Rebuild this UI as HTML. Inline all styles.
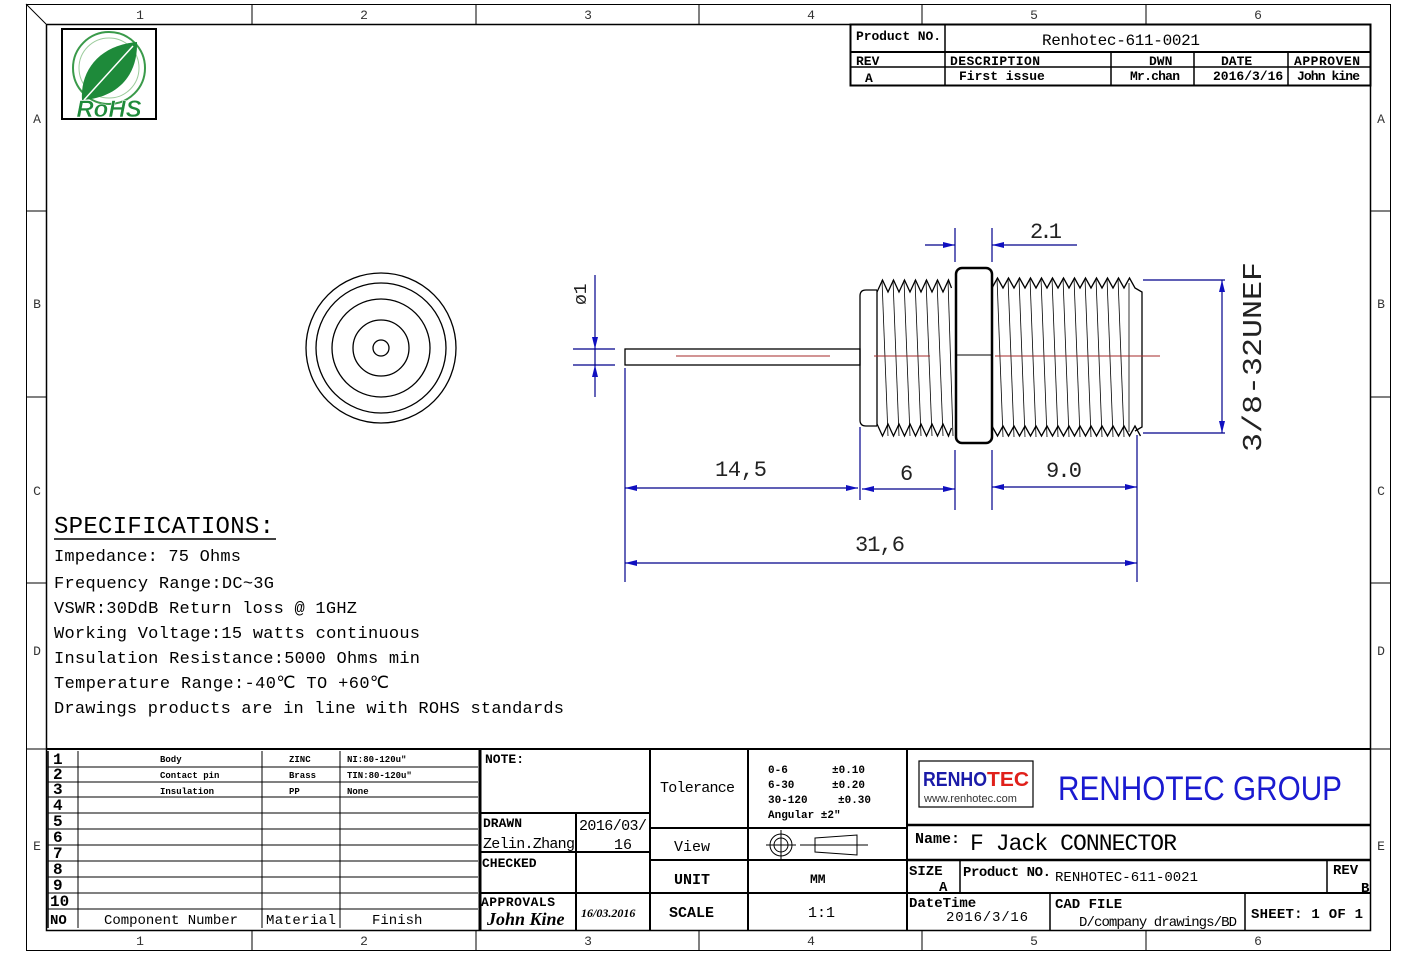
<!DOCTYPE html>
<html><head><meta charset="utf-8"><style>
html,body{margin:0;padding:0;background:#fff}
svg{display:block}
text{font-family:"Liberation Mono",monospace}
.b{font-weight:bold}
.s{font-family:"Liberation Sans",sans-serif}
</style></head><body>
<svg width="1417" height="954" viewBox="0 0 1417 954" xmlns="http://www.w3.org/2000/svg">
<rect width="1417" height="954" fill="#fff"/>
<!-- frames -->
<rect x="26.5" y="4.5" width="1364" height="946" fill="none" stroke="#000" stroke-width="1"/>
<rect x="46.5" y="24.5" width="1324" height="906" fill="none" stroke="#000" stroke-width="1.5"/>
<line x1="26" y1="4" x2="46" y2="24" stroke="#000"/>
<g stroke="#000" stroke-width="1">
<line x1="252" y1="4" x2="252" y2="24"/><line x1="476" y1="4" x2="476" y2="24"/><line x1="699" y1="4" x2="699" y2="24"/><line x1="922" y1="4" x2="922" y2="24"/><line x1="1146" y1="4" x2="1146" y2="24"/>
<line x1="252" y1="930" x2="252" y2="950"/><line x1="476" y1="930" x2="476" y2="950"/><line x1="699" y1="930" x2="699" y2="950"/><line x1="922" y1="930" x2="922" y2="950"/><line x1="1146" y1="930" x2="1146" y2="950"/>
<line x1="26" y1="211" x2="46" y2="211"/><line x1="26" y1="397" x2="46" y2="397"/><line x1="26" y1="583" x2="46" y2="583"/><line x1="26" y1="749" x2="46" y2="749"/>
<line x1="1370" y1="211" x2="1390" y2="211"/><line x1="1370" y1="397" x2="1390" y2="397"/><line x1="1370" y1="583" x2="1390" y2="583"/><line x1="1370" y1="749" x2="1390" y2="749"/>
</g>
<g class="s" font-size="13" text-anchor="middle" fill="#333">
<text x="140" y="19">1</text><text x="364" y="19">2</text><text x="588" y="19">3</text><text x="811" y="19">4</text><text x="1034" y="19">5</text><text x="1258" y="19">6</text>
<text x="140" y="945">1</text><text x="364" y="945">2</text><text x="588" y="945">3</text><text x="811" y="945">4</text><text x="1034" y="945">5</text><text x="1258" y="945">6</text>
<text x="37" y="123">A</text><text x="37" y="308">B</text><text x="37" y="495">C</text><text x="37" y="655">D</text><text x="37" y="850">E</text>
<text x="1381" y="123">A</text><text x="1381" y="308">B</text><text x="1381" y="495">C</text><text x="1381" y="655">D</text><text x="1381" y="850">E</text>
</g>
<!-- RoHS logo -->
<rect x="62" y="29" width="94" height="90" fill="#fff" stroke="#000" stroke-width="2"/>
<circle cx="109" cy="68" r="36" fill="none" stroke="#3a9a4a" stroke-width="2"/>
<circle cx="109" cy="68" r="30" fill="none" stroke="#9ccc9c" stroke-width="1"/>
<path d="M82 100 C80 70 100 45 137 42 C138 75 118 98 82 100 Z" fill="#1e8a3a"/>
<path d="M84 100 L133 46" stroke="#fff" stroke-width="1.5"/>
<text x="109" y="117" text-anchor="middle" class="s" font-size="24" fill="#1e8a3a" style="font-weight:bold;font-style:italic" stroke="#fff" stroke-width="0.5">RoHS</text>
<!-- top revision block -->
<g stroke="#000" fill="none">
<rect x="850.5" y="24.5" width="520" height="61" stroke-width="2"/>
<line x1="850" y1="52" x2="1370" y2="52" stroke-width="2"/>
<line x1="850" y1="67" x2="1370" y2="67" stroke-width="1.5"/>
<line x1="945" y1="24" x2="945" y2="85" stroke-width="1.5"/>
<line x1="1111" y1="52" x2="1111" y2="85" stroke-width="1.5"/>
<line x1="1194" y1="52" x2="1194" y2="85" stroke-width="1.5"/>
<line x1="1288" y1="52" x2="1288" y2="85" stroke-width="1.5"/>
</g>
<g class="b" font-size="13">
<text x="856" y="40" textLength="85">Product NO.</text>
<text x="1042" y="45" font-size="16" style="font-weight:normal" textLength="158">Renhotec-611-0021</text>
<text x="856" y="65">REV</text><text x="950" y="65" textLength="90">DESCRIPTION</text>
<text x="1149" y="65">DWN</text><text x="1221" y="65">DATE</text><text x="1294" y="65" textLength="66">APPROVEN</text>
<text x="865" y="82">A</text><text x="959" y="80">First issue</text><text x="1130" y="80" textLength="50">Mr.chan</text><text x="1213" y="80">2016/3/16</text><text x="1297" y="80" textLength="63">John kine</text>
</g>
<!-- end view circles -->
<g fill="none" stroke="#000" stroke-width="1.3">
<circle cx="381" cy="348" r="75"/><circle cx="381" cy="348" r="65"/><circle cx="381" cy="348" r="49"/><circle cx="381" cy="348" r="28"/><circle cx="381" cy="348" r="8"/>
</g>
<!-- side view -->
<g fill="none" stroke="#000" stroke-width="1.3">
<rect x="625" y="349" width="235" height="16"/>
<path d="M877 290 L866 290 Q860 290 860 296 L860 420 Q860 426 866 426 L877 426"/>
<path d="M877 290 L877 426"/>
<path d="M877 292 l5.5 -12 l5.5 12 l5.5 -12 l5.5 12 l5.5 -12 l5.5 12 l5.5 -12 l5.5 12 l5.5 -12 l5.5 12 l5.5 -12 l5.5 12 l5.5 -12 l3 8"/>
<path d="M877 424 l5.5 12 l5.5 -12 l5.5 12 l5.5 -12 l5.5 12 l5.5 -12 l5.5 12 l5.5 -12 l5.5 12 l5.5 -12 l5.5 12 l5.5 -12 l5.5 12 l3 -8"/>
<g stroke-width="0.8">
<line x1="882" y1="280" x2="888" y2="436"/><line x1="893" y1="280" x2="899" y2="436"/><line x1="904" y1="280" x2="910" y2="436"/><line x1="915" y1="280" x2="921" y2="436"/><line x1="926" y1="280" x2="932" y2="436"/><line x1="937" y1="280" x2="943" y2="436"/><line x1="948" y1="280" x2="953" y2="436"/>
<line x1="997" y1="278" x2="1003" y2="437"/><line x1="1008" y1="278" x2="1014" y2="437"/><line x1="1019" y1="278" x2="1025" y2="437"/><line x1="1030" y1="278" x2="1036" y2="437"/><line x1="1041" y1="278" x2="1047" y2="437"/><line x1="1052" y1="278" x2="1058" y2="437"/><line x1="1063" y1="278" x2="1069" y2="437"/><line x1="1074" y1="278" x2="1080" y2="437"/><line x1="1085" y1="278" x2="1091" y2="437"/><line x1="1096" y1="278" x2="1102" y2="437"/><line x1="1107" y1="278" x2="1113" y2="437"/><line x1="1118" y1="278" x2="1124" y2="437"/><line x1="1129" y1="283" x2="1129" y2="432"/>
</g>
<rect x="956" y="268" width="36" height="175" rx="6" stroke-width="2.5"/>
<line x1="956" y1="355" x2="992" y2="355" stroke-width="1"/>
<path d="M992 288 l5.5 -10 l5.5 10 l5.5 -10 l5.5 10 l5.5 -10 l5.5 10 l5.5 -10 l5.5 10 l5.5 -10 l5.5 10 l5.5 -10 l5.5 10 l5.5 -10 l5.5 10 l5.5 -10 l5.5 10 l5.5 -10 l5.5 10 l5.5 -10 l5.5 10 l5.5 -10 l5.5 10 l5.5 -10 l5.5 10 l5.5 -10 l5.5 10 l7 4 l0 135 l-7 4"/>
<path d="M992 426 l5.5 10 l5.5 -10 l5.5 10 l5.5 -10 l5.5 10 l5.5 -10 l5.5 10 l5.5 -10 l5.5 10 l5.5 -10 l5.5 10 l5.5 -10 l5.5 10 l5.5 -10 l5.5 10 l5.5 -10 l5.5 10 l5.5 -10 l5.5 10 l5.5 -10 l5.5 10 l5.5 -10 l5.5 10 l5.5 -10 l5.5 10 l5.5 -10 l5.5 10"/>
</g>
<g stroke="#a52a2a" stroke-width="1">
<line x1="676" y1="356" x2="830" y2="356"/><line x1="874" y1="356" x2="930" y2="356"/><line x1="995" y1="356" x2="1160" y2="356"/>
</g>
<!-- dimensions -->
<g stroke="#00008b" stroke-width="1.2" fill="none">
<line x1="625" y1="368" x2="625" y2="582"/><line x1="860" y1="427" x2="860" y2="500"/><line x1="955" y1="450" x2="955" y2="510"/><line x1="992" y1="450" x2="992" y2="510"/><line x1="1137" y1="435" x2="1137" y2="582"/>
<line x1="625" y1="488" x2="858" y2="488"/><line x1="862" y1="489" x2="955" y2="489"/><line x1="992" y1="487" x2="1137" y2="487"/><line x1="625" y1="563" x2="1137" y2="563"/>
<line x1="955" y1="228" x2="955" y2="262"/><line x1="992" y1="228" x2="992" y2="262"/><line x1="925" y1="245" x2="955" y2="245"/><line x1="992" y1="245" x2="1077" y2="245"/>
<line x1="1143" y1="280" x2="1225" y2="280"/><line x1="1143" y1="433" x2="1225" y2="433"/><line x1="1222" y1="280" x2="1222" y2="433"/>
<line x1="595" y1="275" x2="595" y2="397"/><line x1="573" y1="349" x2="615" y2="349"/><line x1="573" y1="365" x2="615" y2="365"/>
</g>
<g fill="#1010c0">
<path d="M625 488 l12 -3 v6z"/><path d="M858 488 l-12 -3 v6z"/><path d="M862 489 l12 -3 v6z"/><path d="M955 489 l-12 -3 v6z"/>
<path d="M992 487 l12 -3 v6z"/><path d="M1137 487 l-12 -3 v6z"/><path d="M625 563 l12 -3 v6z"/><path d="M1137 563 l-12 -3 v6z"/>
<path d="M955 245 l-12 -3 v6z"/><path d="M992 245 l12 -3 v6z"/>
<path d="M1222 280 l-3 12 h6z"/><path d="M1222 433 l-3 -12 h6z"/>
<path d="M595 349 l-3 -12 h6z"/><path d="M595 365 l-3 12 h6z"/>
</g>
<g class="s" font-size="22" fill="#222">
<text x="715" y="476" textLength="52">14,5</text><text x="900" y="480">6</text><text x="1046" y="477" textLength="36">9.0</text>
<text x="855" y="551" textLength="50">31,6</text><text x="1030" y="238" textLength="32">2.1</text>
<text transform="translate(586,305) rotate(-90)" font-size="18">ø1</text>
<text transform="translate(1261,452) rotate(-90)" font-size="27" textLength="190" lengthAdjust="spacingAndGlyphs">3/8-32UNEF</text>
</g>
<!-- specifications -->
<text x="54" y="533" font-size="24" textLength="220">SPECIFICATIONS:</text>
<line x1="54" y1="539" x2="276" y2="539" stroke="#000" stroke-width="1.5"/>
<g font-size="17">
<text x="54" y="561" textLength="187">Impedance: 75 Ohms</text>
<text x="54" y="588" textLength="220">Frequency Range:DC~3G</text>
<text x="54" y="613" textLength="303">VSWR:30DdB Return loss @ 1GHZ</text>
<text x="54" y="638" textLength="366">Working Voltage:15 watts continuous</text>
<text x="54" y="663" textLength="366">Insulation Resistance:5000 Ohms min</text>
<text x="54" y="688" textLength="335">Temperature Range:-40℃ TO +60℃</text>
<text x="54" y="713" textLength="510">Drawings products are in line with ROHS standards</text>
</g>
<!-- bottom block -->
<g stroke="#000" fill="none">
<line x1="46" y1="749" x2="1370" y2="749" stroke-width="2"/>
<g stroke-width="1">
<line x1="48" y1="767" x2="478" y2="767"/><line x1="48" y1="782" x2="478" y2="782"/><line x1="48" y1="797" x2="478" y2="797"/><line x1="48" y1="813" x2="478" y2="813"/><line x1="48" y1="829" x2="478" y2="829"/><line x1="48" y1="845" x2="478" y2="845"/><line x1="48" y1="861" x2="478" y2="861"/><line x1="48" y1="877" x2="478" y2="877"/><line x1="48" y1="893" x2="478" y2="893"/><line x1="48" y1="909" x2="478" y2="909"/>
<line x1="78" y1="751" x2="78" y2="928"/><line x1="262" y1="751" x2="262" y2="928"/><line x1="340" y1="751" x2="340" y2="928"/>
</g>
<line x1="48" y1="751" x2="48" y2="928" stroke-width="1.5"/>
<line x1="480" y1="749" x2="480" y2="930" stroke-width="3"/>
<line x1="650" y1="749" x2="650" y2="930" stroke-width="2"/>
<line x1="748" y1="749" x2="748" y2="930" stroke-width="2"/>
<line x1="907" y1="749" x2="907" y2="930" stroke-width="2"/>
<line x1="480" y1="813" x2="650" y2="813" stroke-width="2"/>
<line x1="480" y1="852" x2="650" y2="852" stroke-width="2"/>
<line x1="480" y1="893" x2="650" y2="893" stroke-width="2"/>
<line x1="576" y1="813" x2="576" y2="930" stroke-width="2"/>
<line x1="650" y1="828" x2="907" y2="828" stroke-width="2"/>
<line x1="650" y1="860" x2="907" y2="860" stroke-width="2"/>
<line x1="650" y1="893" x2="907" y2="893" stroke-width="2"/>
<line x1="907" y1="825" x2="1370" y2="825" stroke-width="2.5"/>
<line x1="907" y1="860" x2="1370" y2="860" stroke-width="2.5"/>
<line x1="907" y1="893" x2="1370" y2="893" stroke-width="2"/>
<line x1="960" y1="860" x2="960" y2="893" stroke-width="1.5"/>
<line x1="1327" y1="860" x2="1327" y2="893" stroke-width="1.5"/>
<line x1="1050" y1="893" x2="1050" y2="930" stroke-width="1.5"/>
<line x1="1245" y1="893" x2="1245" y2="930" stroke-width="1.5"/>
<rect x="919" y="761" width="114" height="46" stroke-width="1.2"/>
<!-- view symbol -->
<circle cx="781" cy="845" r="7"/><circle cx="781" cy="845" r="11"/>
<line x1="766" y1="845" x2="796" y2="845"/><line x1="781" y1="830" x2="781" y2="860"/>
<path d="M815 838 L857 835 L857 855 L815 852 Z"/><line x1="800" y1="845" x2="868" y2="845"/>
</g>
<g class="b" font-size="16">
<text x="53" y="764">1</text><text x="53" y="779">2</text><text x="53" y="794">3</text><text x="53" y="810">4</text><text x="53" y="826">5</text><text x="53" y="842">6</text><text x="53" y="858">7</text><text x="53" y="874">8</text><text x="53" y="890">9</text><text x="50" y="906">10</text>
<text x="50" y="924" font-size="14">NO</text>
</g>
<g class="b" font-size="9">
<text x="160" y="762">Body</text><text x="160" y="778">Contact pin</text><text x="160" y="794">Insulation</text>
<text x="289" y="762">ZINC</text><text x="289" y="778">Brass</text><text x="289" y="794">PP</text>
<text x="347" y="762">NI:80-120u"</text><text x="347" y="778">TIN:80-120u"</text><text x="347" y="794">None</text>
</g>
<g font-size="14">
<text x="104" y="924" textLength="134">Component Number</text>
<text x="266" y="924" textLength="70">Material</text>
<text x="372" y="924">Finish</text>
</g>
<g class="b" font-size="13">
<text x="485" y="763">NOTE:</text>
<text x="483" y="827">DRAWN</text>
<text x="483" y="848" textLength="92" style="font-weight:normal" font-size="15">Zelin.Zhang</text>
<text x="579" y="830" font-size="15" style="font-weight:normal" textLength="68">2016/03/</text>
<text x="614" y="849" font-size="15" style="font-weight:normal">16</text>
<text x="482" y="867">CHECKED</text>
<text x="481" y="906" textLength="74">APPROVALS</text>
</g>
<text x="487" y="925" font-size="18" style="font-family:'Liberation Serif',serif;font-style:italic;font-weight:bold">John Kine</text>
<text x="581" y="917" font-size="12" style="font-family:'Liberation Serif',serif;font-style:italic;font-weight:bold">16/03.2016</text>
<g font-size="15">
<text x="660" y="792" textLength="75">Tolerance</text>
<text x="674" y="851">View</text>
<text x="674" y="884" class="b">UNIT</text>
<text x="669" y="917" class="b">SCALE</text>
<text x="810" y="883" class="b" font-size="13">MM</text>
<text x="808" y="917">1:1</text>
</g>
<g class="b" font-size="11">
<text x="768" y="773">0-6</text><text x="832" y="773">±0.10</text>
<text x="768" y="788">6-30</text><text x="832" y="788">±0.20</text>
<text x="768" y="803">30-120</text><text x="838" y="803">±0.30</text>
<text x="768" y="818">Angular  ±2"</text>
</g>
<text x="923" y="786" class="s b" font-size="20" fill="#1a1aa8" textLength="64" lengthAdjust="spacingAndGlyphs">RENHO</text>
<text x="987" y="786" class="s b" font-size="20" fill="#e0201a" textLength="42" lengthAdjust="spacingAndGlyphs">TEC</text>
<text x="924" y="802" class="s" font-size="11" fill="#333">www.renhotec.com</text>
<text x="1058" y="800" class="s" font-size="34" fill="#1a1ad0" textLength="284" lengthAdjust="spacingAndGlyphs">RENHOTEC  GROUP</text>
<text x="915" y="843" class="b" font-size="15">Name:</text>
<text x="970" y="850" font-size="23" textLength="207">F Jack CONNECTOR</text>
<g class="b" font-size="14">
<text x="909" y="875">SIZE</text><text x="939" y="891">A</text>
<text x="963" y="876" textLength="88">Product NO.</text>
<text x="1055" y="881" style="font-weight:normal" textLength="143">RENHOTEC-611-0021</text>
<text x="1333" y="874">REV</text><text x="1361" y="892">B</text>
<text x="909" y="907">DateTime</text>
<text x="946" y="921" style="font-weight:normal" textLength="82">2016/3/16</text>
<text x="1055" y="908">CAD FILE</text>
<text x="1079" y="926" style="font-weight:normal" textLength="158">D/company drawings/BD</text>
<text x="1251" y="918" textLength="112">SHEET: 1 OF 1</text>
</g>
</svg>
</body></html>
